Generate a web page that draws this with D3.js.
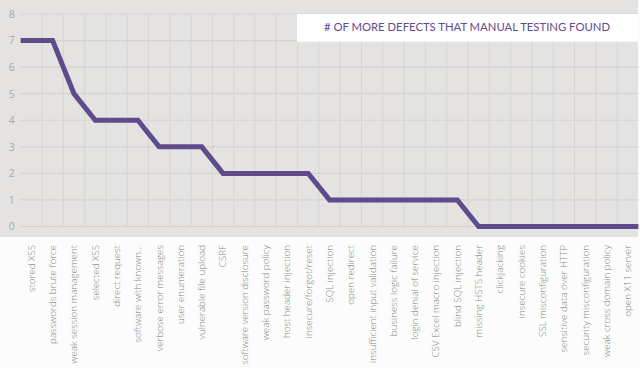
<!DOCTYPE html>
<html>
<head>
<meta charset="utf-8">
<script src="https://cdn.jsdelivr.net/npm/d3@7"></script>
<style>
    body { margin: 0; background: #fcfcfc; }
    svg { display: block; }
</style>
</head>
<body>
<div id="defects_chart"></div>
<script>
const categories = [
    "stored XSS", "passwords brute force", "weak session management", "selected XSS",
    "direct request", "software with known...", "verbose error messages", "user enumeration",
    "vulnerable file upload", "CSRF", "software version disclosure", "weak password policy",
    "host header injection", "insecure/forgot/reset", "SQL injection", "open redirect",
    "insufficient input validation", "business logic failure", "login denial of service",
    "CSV Excel macro injection", "blind SQL injection", "missing HSTS header", "clickjacking",
    "insecure cookies", "SSL misconfiguration", "sensitive data over HTTP",
    "security misconfiguration", "weak cross domain policy", "open X11 server"
];
const defects = [7, 7, 5, 4, 4, 4, 3, 3, 3, 2, 2, 2, 2, 2, 1, 1, 1, 1, 1, 1, 1, 0, 0, 0, 0, 0, 0, 0, 0];
const yTicks = [0, 1, 2, 3, 4, 5, 6, 7, 8];
const title = "# OF MORE DEFECTS THAT MANUAL TESTING FOUND";

const width = 640, height = 368;
const purple = "#5f4b8b";

function _plot() {
    const svg = d3.create("svg").attr("width", width).attr("height", height);

    // grey panel behind the plot
    svg.append("rect")
        .attr("x", 0).attr("y", 0)
        .attr("width", 638).attr("height", 237)
        .attr("fill", "#e4e3e2");

    const x = d3.scaleBand().domain(categories).range([20.7, 638.4]);
    const y = d3.scaleLinear().domain([0, 8]).range([226.5, 14]);

    // vertical grid at band boundaries
    svg.append("g")
        .selectAll("line")
        .data(categories.slice(1))
        .join("line")
        .attr("x1", d => x(d)).attr("x2", d => x(d))
        .attr("y1", y(8)).attr("y2", y(0))
        .attr("stroke", "#d6d5d4").attr("stroke-width", 1);

    // horizontal grid
    svg.append("g")
        .selectAll("line")
        .data(yTicks)
        .join("line")
        .attr("x1", x.range()[0]).attr("x2", x.range()[1])
        .attr("y1", d => y(d)).attr("y2", d => y(d))
        .attr("stroke", "#d3d2d1").attr("stroke-width", 1.2);

    const yAxis = svg.append("g")
        .attr("transform", `translate(${x.range()[0] - 6},0)`)
        .call(d3.axisLeft(y).tickValues(yTicks).tickSize(0).tickPadding(0));
    yAxis.select(".domain").remove();
    yAxis.selectAll("text")
        .attr("fill", "#a9a9a9")
        .style("font-family", "'Open Sans'")
        .style("font-size", "10.5px");

    const xAxis = svg.append("g")
        .attr("transform", "translate(0,245)")
        .call(d3.axisBottom(x).tickSize(0).tickPadding(0));
    xAxis.select(".domain").remove();
    xAxis.selectAll("text")
        .attr("fill", "#858585")
        .attr("transform", "rotate(-90)")
        .attr("x", 0).attr("y", 0).attr("dy", "0.35em")
        .attr("text-anchor", "end")
        .style("font-family", "'Open Sans'")
        .style("font-weight", 300)
        .style("font-size", "9.8px");

    // line runs flat to both edges of the plot
    const points = defects.map((v, i) => [x(categories[i]) + x.bandwidth() / 2, y(v)]);
    points.unshift([x.range()[0], y(defects[0])]);
    points.push([x.range()[1], y(defects[defects.length - 1])]);
    svg.append("path")
        .datum(points)
        .attr("fill", "none")
        .attr("stroke", purple)
        .attr("stroke-width", 5)
        .attr("stroke-linejoin", "miter")
        .attr("d", d3.line());

    // title box
    svg.append("rect")
        .attr("x", 297).attr("y", 14)
        .attr("width", 341).attr("height", 27.7)
        .attr("fill", "#ffffff");
    svg.append("text")
        .attr("x", 467).attr("y", 27.5)
        .attr("dy", "0.35em")
        .attr("text-anchor", "middle")
        .attr("fill", purple)
        .style("font-family", "Lato")
        .style("font-size", "11.3px")
        .text(title);

    document.getElementById("defects_chart").appendChild(svg.node());
}

_plot();
</script>
</body>
</html>
